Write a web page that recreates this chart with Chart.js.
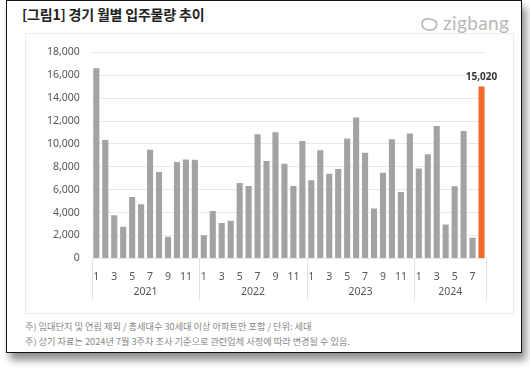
<!DOCTYPE html>
<html>
<head>
<meta charset="utf-8">
<script src="https://cdn.jsdelivr.net/npm/chart.js@4.4.1/dist/chart.umd.min.js"></script>
<style>
  body { margin:0; width:530px; height:369px; background:#fff; font-family:"Noto Sans CJK KR","Noto Sans",sans-serif; overflow:hidden; }
  #frame { position:absolute; left:6px; top:0px; width:514px; height:351px; border:1.5px solid #111; background:#fff; box-shadow:4px 7px 8px rgba(0,0,0,0.45); }
  #title { position:absolute; left:15px; top:3px; font-size:14px; font-weight:bold; color:#222; letter-spacing:-0.2px; }
  #logo { position:absolute; left:413px; top:10px; font-family:"Lato","Inter",sans-serif; font-size:19px; color:#b8b8b8; letter-spacing:0.4px; }
  #logo svg { vertical-align:-2px; margin-right:4px; }
  #panel { position:absolute; left:18px; top:32px; width:487px; height:279px; border:1px solid #ececec; }
  #wrap { position:absolute; left:0; top:0; width:487px; height:279px; }
  .note { position:absolute; left:18px; font-size:9.2px; color:#888; }
</style>
</head>
<body>
<div id="frame">
  <div id="title">[그림1] 경기 월별 입주물량 추이</div>
  <div id="logo"><svg width="19" height="15" viewBox="0 0 18 14"><path d="M3 3 Q9 0 15 4 Q17 8 14 11 Q8 14 3 10 Q1 6 3 3 Z" fill="none" stroke="#b8b8b8" stroke-width="1.7"/></svg>zigbang</div>
  <div id="panel"><div id="wrap"><canvas id="myChart"></canvas></div></div>
  <div class="note" style="top:318px;">주) 임대단지 및 연립 제외 / 총세대수 30세대 이상 아파트만 포함 / 단위: 세대</div>
  <div class="note" style="top:333px;">주) 상기 자료는 2024년 7월 3주차 조사 기준으로 관련업체 사정에 따라 변경될 수 있음.</div>
</div>
<script>
const months = [1,2,3,4,5,6,7,8,9,10,11,12,
                1,2,3,4,5,6,7,8,9,10,11,12,
                1,2,3,4,5,6,7,8,9,10,11,12,
                1,2,3,4,5,6,7,8];
const years = ["2021", "2022", "2023", "2024"];
const monthsPerYear = [12, 12, 12, 8];
const units = [16600,10350,3770,2760,5370,4730,9480,7540,1890,8410,8640,8610,
               2030,4150,3100,3280,6580,6320,10840,8500,11020,8260,6320,10260,
               6820,9450,7390,7800,10470,12300,9220,4350,7480,10410,5800,10900,
               7860,9100,11570,2960,6300,11130,1800,15020];
const yTicks = [0,2000,4000,6000,8000,10000,12000,14000,16000,18000];
const highlightIndex = units.length - 1;

const barGray = "#a3a3a3";
const barOrange = "#f06a2a";

const yearRow = {
  id: "yearRow",
  afterDraw(chart) {
    const ctx = chart.ctx;
    const x = chart.scales.x;
    const half = (x.getPixelForValue(1) - x.getPixelForValue(0)) / 2;
    const top = chart.chartArea.bottom;
    ctx.save();
    ctx.strokeStyle = "#e0e0e0";
    ctx.lineWidth = 1;
    ctx.fillStyle = "#555";
    ctx.font = "10.5px 'Noto Sans', sans-serif";
    ctx.textAlign = "center";
    ctx.textBaseline = "middle";
    let start = 0;
    for (let i = 0; i < years.length; i++) {
      const end = start + monthsPerYear[i] - 1;
      const left = x.getPixelForValue(start) - half;
      const right = x.getPixelForValue(end) + half;
      ctx.beginPath();
      ctx.moveTo(Math.round(left) + 0.5, top);
      ctx.lineTo(Math.round(left) + 0.5, top + 42);
      if (i === years.length - 1) {
        ctx.moveTo(Math.round(right) + 0.5, top);
        ctx.lineTo(Math.round(right) + 0.5, top + 42);
      }
      ctx.stroke();
      ctx.fillText(years[i], (left + right) / 2, top + 34);
      start = end + 1;
    }
    // value label on the highlighted bar
    const bar = chart.getDatasetMeta(0).data[highlightIndex];
    ctx.fillStyle = "#333";
    ctx.font = "bold 10px 'Noto Sans', sans-serif";
    ctx.textBaseline = "bottom";
    ctx.fillText(units[highlightIndex].toLocaleString("en-US"), bar.x, bar.y - 4);
    ctx.restore();
  }
};

new Chart("myChart", {
  type: "bar",
  data: {
    labels: months,
    datasets: [{
      data: units,
      backgroundColor: units.map((v, i) => i === highlightIndex ? barOrange : barGray),
      barPercentage: 0.68,
      categoryPercentage: 1.0
    }]
  },
  options: {
    responsive: true,
    maintainAspectRatio: false,
    animation: false,
    layout: { padding: { left: 9, right: 27, top: 16, bottom: 26 } },
    plugins: { legend: { display: false }, tooltip: { enabled: false } },
    scales: {
      x: {
        grid: { display: false },
        border: { display: false },
        ticks: {
          autoSkip: false,
          maxRotation: 0,
          padding: 4,
          color: "#555",
          font: { size: 10.5, family: "'Noto Sans', sans-serif" },
          callback: function(val, idx) { return months[idx] % 2 === 1 ? String(months[idx]) : ""; }
        }
      },
      y: {
        min: 0,
        max: 18000,
        afterBuildTicks: (s) => { s.ticks = yTicks.map(v => ({ value: v })); },
        grid: { color: "#e8e8e8", drawTicks: false },
        border: { display: false },
        ticks: {
          padding: 12,
          color: "#555",
          font: { size: 10.5, family: "'Noto Sans', sans-serif" },
          callback: (v) => v.toLocaleString("en-US")
        }
      }
    }
  },
  plugins: [yearRow]
});
</script>
</body>
</html>
